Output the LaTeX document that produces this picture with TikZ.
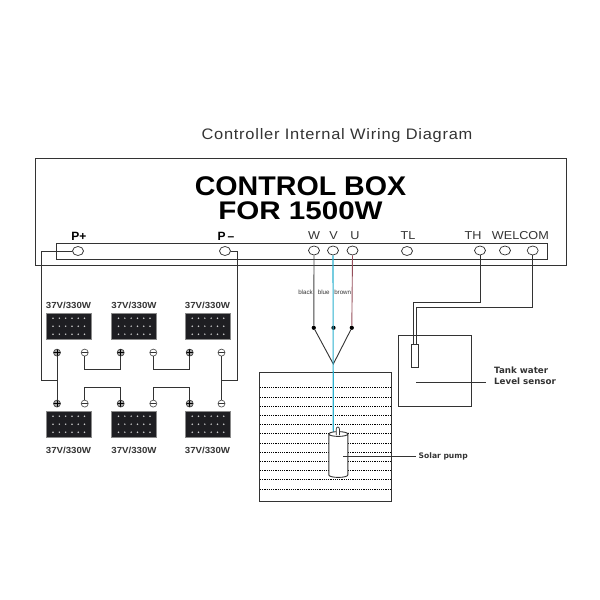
\documentclass[tikz,border=0pt]{standalone}
\usetikzlibrary{shapes.geometric}
\usepackage{fontspec}
\setmainfont{Liberation Sans}
\newfontfamily\widefont{DejaVu Sans}
\newfontfamily\titlefont[FakeStretch=1.08,LetterSpace=5]{Liberation Sans}
\newfontfamily\headone[FakeStretch=1.06]{Liberation Sans}
\newfontfamily\headtwo[FakeStretch=1.16]{Liberation Sans}
\newfontfamily\rategood[FakeStretch=1.1]{Liberation Sans}
\newfontfamily\termfont[FakeStretch=1.1]{Liberation Sans}
\definecolor{wire}{HTML}{333333}
\definecolor{wireblue}{HTML}{2BB0CE}
\definecolor{wirebrown}{HTML}{954E5A}
\definecolor{wireblack}{HTML}{444444}
\definecolor{panelfill}{HTML}{1E1E22}
\definecolor{panelrim}{HTML}{8A8A8A}
\tikzset{
  ln/.style={draw=wire,line width=0.9pt},
  termo/.style={ellipse,draw=wire,line width=0.7pt,minimum width=11pt,minimum height=9pt,inner sep=0pt,fill=white},
  joint/.style={circle,fill=black,minimum size=4.2pt,inner sep=0pt},
  plusT/.style={circle,draw=wire,line width=0.6pt,fill=black!35,minimum size=7pt,inner sep=0pt,
    path picture={\draw[line width=0.9pt,black] (path picture bounding box.west)--(path picture bounding box.east) (path picture bounding box.north)--(path picture bounding box.south);}},
  minusT/.style={circle,draw=black!65,line width=0.7pt,fill=white,minimum size=7pt,inner sep=0pt,
    path picture={\draw[line width=0.8pt,wire] (path picture bounding box.west)--(path picture bounding box.east);}},
  panelbox/.style={rectangle,draw=panelrim,line width=1pt,fill=panelfill,minimum width=45pt,minimum height=26pt,inner sep=0pt},
  ratelab/.style={font=\rategood\bfseries\fontsize{8.8}{9}\selectfont,text=wire,inner sep=0pt},
  termlab/.style={font=\termfont\fontsize{11.5}{12}\selectfont,text=wire,inner sep=0pt},
  termbold/.style={font=\bfseries\fontsize{12}{12}\selectfont,text=black,inner sep=0pt},
  wirelab/.style={font=\fontsize{6.2}{6.5}\selectfont,text=wire,inner sep=0pt},
  sidelab/.style={font=\widefont\bfseries\fontsize{7.6}{9.5}\selectfont,text=wire,inner sep=0pt,align=left,anchor=west},
  sidelabb/.style={font=\widefont\bfseries\fontsize{8.7}{10.8}\selectfont,text=wire,inner sep=0pt,align=left,anchor=west}
}
\newcommand{\solarpanel}[3]{%
  \node[panelbox] (#1) at (#2,#3) {};
  \foreach \i in {-2.5,-1.5,-0.5,0.5,1.5,2.5} \foreach \j in {-1,0,1}
    \fill[white!80!black] (#2+\i*6.3,#3+\j*8) circle (0.85pt);
}
\begin{document}
\begin{tikzpicture}[x=1pt,y=-1pt]
\useasboundingbox (0,0) rectangle (600,600);
% title
\node[font=\titlefont\fontsize{15.2}{16}\selectfont,text=wire,inner sep=0pt] (title) at (337,135.5) {Controller Internal Wiring Diagram};
% boxes
\draw[ln] (35,158) rectangle (566.5,265);
\draw[ln] (56,243.7) rectangle (547.3,259.8);
\node[font=\headone\bfseries\fontsize{27}{28}\selectfont,text=black,inner sep=0pt] (h1) at (300.5,186.5) {CONTROL BOX};
\node[font=\headtwo\bfseries\fontsize{25.5}{26}\selectfont,text=black,inner sep=0pt] (h2) at (300.5,210.5) {FOR 1500W};
% terminal labels
\node[termbold] (lp) at (79,236) {P+};
\node[termbold] (lm) at (226,236) {P\,–};
\node[termlab] (lw) at (314,236) {W};
\node[termlab] (lv) at (333.5,236) {V};
\node[termlab] (lu) at (355,236) {U};
\node[termlab] (ltl) at (408,236) {TL};
\node[termlab] (lth) at (473,236) {TH};
\node[termlab,anchor=east] (lwc) at (549,236) {WELCOM};
% terminals
\node[termo] (Pp) at (78,251) {};
\node[termo] (Pm) at (225,251) {};
\node[termo] (W) at (314,250.5) {};
\node[termo] (V) at (333,250.5) {};
\node[termo] (U) at (352.5,250.5) {};
\node[termo] (TL) at (407,251) {};
\node[termo] (TH) at (480,250.5) {};
\node[termo] (WE) at (505,250.5) {};
\node[termo] (COM) at (532.7,250.5) {};
% panels
\solarpanel{pa}{68.8}{326.2}
\solarpanel{pb}{134.3}{326.2}
\solarpanel{pc}{208}{326.2}
\solarpanel{pd}{68.8}{424.2}
\solarpanel{pe}{134.3}{424.2}
\solarpanel{pf}{208}{424.2}
\foreach \x/\n in {68.5/a,134/b,207.5/c}{
  \node[ratelab] (ru\n) at (\x,305) {37V/330W};
  \node[ratelab] (rl\n) at (\x,450.3) {37V/330W};
}
% panel terminals
\node[plusT] (ua) at (57,352.6) {};
\node[minusT] (ub) at (84.7,352.6) {};
\node[plusT] (uc) at (120.7,352.6) {};
\node[minusT] (ud) at (153.3,352.6) {};
\node[plusT] (ue) at (189.7,352.6) {};
\node[minusT] (uf) at (221.5,352.6) {};
\node[plusT] (la) at (57,403.6) {};
\node[minusT] (lb) at (84.7,403.6) {};
\node[plusT] (lc) at (120.7,403.6) {};
\node[minusT] (ld) at (153.3,403.6) {};
\node[plusT] (le) at (189.7,403.6) {};
\node[minusT] (lf) at (221.5,403.6) {};
\draw[ln] (ua) -- (la);
\draw[ln] (uf) -- (lf);
\draw[ln] (ub) |- (120.7,369) -- (uc);
\draw[ln] (ud) |- (189.7,369) -- (ue);
\draw[ln] (lb) |- (120.7,387.3) -- (lc);
\draw[ln] (ld) |- (189.7,387.3) -- (le);
\coordinate (pl) at (57,380.7);
\coordinate (mr) at (221.5,380.7);
\draw[ln] (Pp.west) -- (41.5,251) |- (pl);
\draw[ln] (Pm.east) -- (237.5,251) |- (mr);
% motor wires
\node[joint] (jw) at (313.8,327.8) {};
\node[joint] (jv) at (333.5,327.8) {};
\node[joint] (ju) at (351.8,327.8) {};
\coordinate (apex) at (333.3,364);
\coordinate (pumptop) at (333.3,432);
\draw[wireblack,line width=0.9pt] (W.south) -- (jw);
\draw[wirebrown,line width=0.9pt] (U.south) -- (ju);
\draw[ln] (jw) -- (apex) -- (ju);
\node[wirelab] (tblack) at (305.5,292) {black};
\node[wirelab] (tblue) at (323.7,292) {blue};
\node[wirelab] (tbrown) at (342.7,292) {brown};
% tank
\draw[ln] (259,372.3) rectangle (391.7,501.3);
\foreach \k in {0,...,11}
  \draw[black,line width=0.8pt,dash pattern=on 1.1pt off 1.1pt] (260,387.7+\k*9.2) -- (391,387.7+\k*9.2);
% pump
\draw[wireblue,line width=1.1pt] (V.south) -- (pumptop);
\draw[ln,fill=white] (328.8,434) -- (328.8,475) arc[start angle=180,end angle=360,x radius=9.5,y radius=-2.4] -- (347.8,434) arc[start angle=0,end angle=360,x radius=9.5,y radius=2.4];
\draw[ln,fill=white,line width=0.7pt] (336.2,435) -- (336.2,429) arc[start angle=180,end angle=0,x radius=1.6,y radius=-2] -- (339.4,435);
\coordinate (pumpin) at (343,456);
\node[sidelab] (tpump) at (418.5,456.5) {Solar pump};
\coordinate (pumpout) at (416,456);
\draw[ln] (pumpin) -- (pumpout);
% sensor
\draw[ln] (398,335.7) rectangle (471.3,406);
\node[draw=wire,line width=0.7pt,minimum width=7.4pt,minimum height=22.6pt,inner sep=0pt] (probe) at (415,356) {};
\coordinate (c1) at (413.3,302.3);
\coordinate (c2) at (416,307.7);
\draw[ln] (TH.south) |- (c1) -- (c1 |- probe.north);
\draw[ln] (COM.south) |- (c2) -- (c2 |- probe.north);
\coordinate (sensin) at (416,382);
\coordinate (sensout) at (485.7,382);
\node[sidelabb] (tsens) at (494,375.5) {Tank water\\Level sensor};
\draw[ln] (sensin) -- (sensout);
\end{tikzpicture}
\end{document}
